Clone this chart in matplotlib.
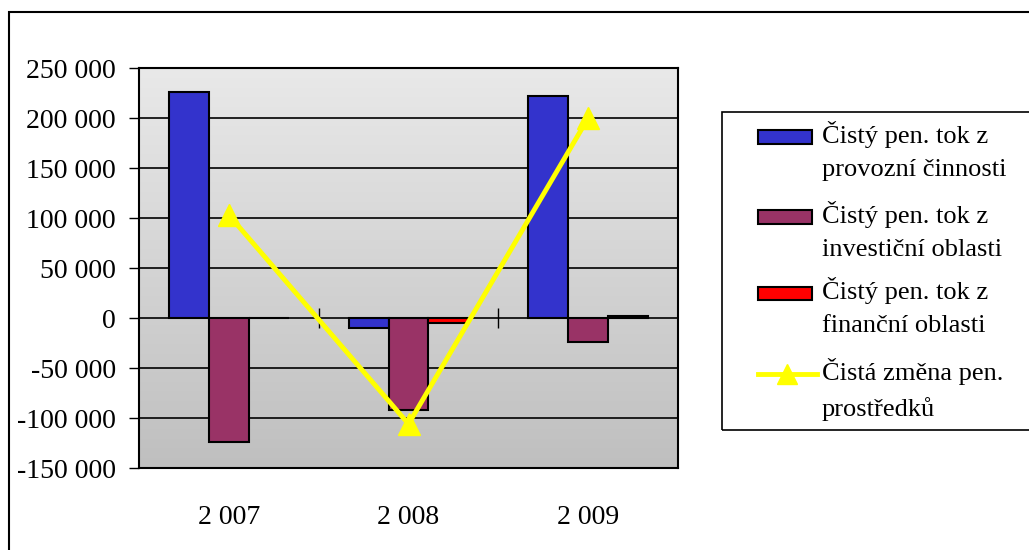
import matplotlib.pyplot as plt
import numpy as np
from matplotlib.patches import Rectangle
from matplotlib.lines import Line2D
from matplotlib.colors import LinearSegmentedColormap
from matplotlib.ticker import FuncFormatter

plt.rcParams['font.family'] = ['Liberation Serif', 'DejaVu Serif']

# cash flow data (CZK thousands)
years = ['2 007', '2 008', '2 009']
provozni = [226000, -10000, 222000]
investicni = [-124000, -92000, -24000]
financni = [0, -5000, 2000]
zmena = [103000, -106000, 200000]

labels = ['Čistý pen. tok z\nprovozní činnosti',
          'Čistý pen. tok z\ninvestiční oblasti',
          'Čistý pen. tok z\nfinanční oblasti',
          'Čistá změna pen.\nprostředků']
colors = ['#3333CC', '#993366', '#FF0000']

W, H = 1029, 550
fig = plt.figure(figsize=(W / 100, H / 100), dpi=100)
ax = fig.add_axes([139 / W, 1 - 468 / H, 539 / W, 400 / H])

# grey gradient of the plot area, light at the top
grad = np.linspace(0, 1, 256).reshape(-1, 1)
bg = LinearSegmentedColormap.from_list('bg', ['#e9e9e9', '#bfbfbf'])
ax.imshow(grad, cmap=bg, extent=[0, 1, 0, 1], origin='upper', aspect='auto',
          transform=ax.transAxes, zorder=0)

x = np.arange(len(years))
w = 1 / 4.5
for i, (vals, c) in enumerate(zip([provozni, investicni, financni], colors)):
    ax.bar(x + (i - 1) * w, vals, width=w, color=c, edgecolor='black',
           linewidth=1.5, zorder=3)

ax.plot(x, zmena, color='#FFFF00', lw=3.5, marker='^', markersize=16,
        markeredgecolor='#FFFF00', zorder=4)

ax.set_xlim(-0.5, 2.5)
ax.set_ylim(-150000, 250000)
ax.set_yticks(np.arange(-150000, 250001, 50000))
ax.yaxis.set_major_formatter(FuncFormatter(lambda v, p: '{:,.0f}'.format(v).replace(',', ' ')))
ax.yaxis.grid(True, color='black', linewidth=1.2)
ax.set_axisbelow(True)
ax.tick_params(axis='y', direction='out', length=7.5, width=1, labelsize=20, pad=9)
ax.set_xticks(x)
ax.set_xticklabels(years)
ax.tick_params(axis='x', length=0, labelsize=20, pad=27)
for s in ax.spines.values():
    s.set_linewidth(1.5)

# category separators crossing the zero line
sec = ax.secondary_xaxis(150000 / 400000)
sec.set_xticks([0.5, 1.5])
sec.set_xticklabels([])
sec.tick_params(direction='inout', length=15, width=1)
sec.spines['bottom'].set_visible(False)

# outer chart frame
fig.patches.append(Rectangle((9 / W, -0.1), 1.1, 1 - 12 / H + 0.1, transform=fig.transFigure,
                             fill=False, edgecolor='black', linewidth=1.5))

# legend box
fig.patches.append(Rectangle((722 / W, 1 - 430 / H), 0.3, 318 / H, transform=fig.transFigure,
                             fill=False, edgecolor='black', linewidth=1.2))
rows = [137, 217, 293, 374]
for i, lab in enumerate(labels):
    yc = 1 - rows[i] / H
    if i < 3:
        fig.patches.append(Rectangle((758 / W, yc - 6.5 / H), 54 / W, 13 / H,
                                     transform=fig.transFigure, facecolor=colors[i],
                                     edgecolor='black', linewidth=1.5))
    else:
        fig.lines.append(Line2D([758 / W, 817 / W], [yc, yc], transform=fig.transFigure,
                                color='#FFFF00', lw=3.5))
        fig.lines.append(Line2D([787 / W], [yc], transform=fig.transFigure, color='#FFFF00',
                                marker='^', markersize=14))
    fig.text(822 / W, yc + 16 / H, lab, fontsize=19, va='top', ha='left', linespacing=1.65)

fig.savefig('out.png', dpi=100)
